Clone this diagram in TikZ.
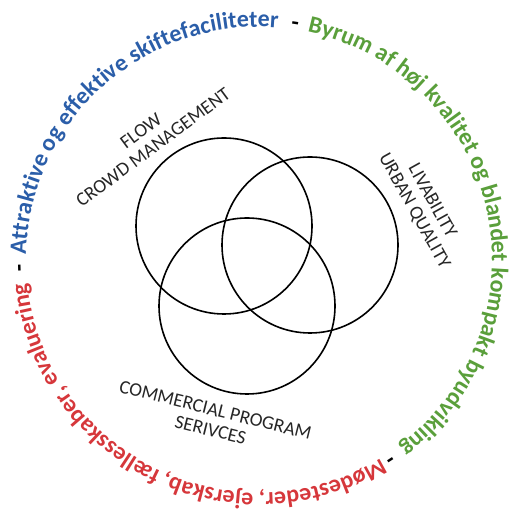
\documentclass[tikz,border=0pt]{standalone}
\usepackage{fontspec}
\setmainfont{Carlito}
\usetikzlibrary{decorations.text,calc}
\definecolor{tblue}{HTML}{2B5EA9}
\definecolor{tgreen}{HTML}{5A9F3B}
\definecolor{tred}{HTML}{D6373B}
\tikzset{
  venn/.style={draw=black, line width=1.6bp},
  lbl/.style={font=\fontsize{19.3}{20.5}\selectfont, align=center, text=black!85},
  dashmark/.style={font=\bfseries\fontsize{24}{28}\selectfont, inner sep=0pt},
}
\begin{document}
\begin{tikzpicture}[x=1bp,y=1bp]
\useasboundingbox (0,0) rectangle (517,512);
\coordinate (O) at (259,252);
% Venn circles
\node[venn, circle, minimum size=176bp, inner sep=0pt] (c1) at (224,286) {};
\node[venn, circle, minimum size=176bp, inner sep=0pt] (c2) at (310,267) {};
\node[venn, circle, minimum size=176bp, inner sep=0pt] (c3) at (247,206) {};
% labels
\node[lbl, rotate=36.6] (l1) at (147,373) {FLOW\\CROWD MANAGEMENT};
\node[lbl, rotate=-61] (l2) at (423,306) {LIVABILITY\\URBAN QUALITY};
\node[lbl, rotate=-14] (l3) at (213,92) {COMMERCIAL PROGRAM\\SERIVCES};
% outer text
\path[decorate, decoration={text along path, text align=center,
  text={|\bfseries\fontsize{24}{28}\selectfont\color{tblue}|Attraktive og effektive skiftefaciliteter}}]
  (O) ++(212:233) arc[start angle=212, end angle=52, radius=233];
\path[decorate, decoration={text along path, text align=center,
  text={|\bfseries\fontsize{24}{28}\selectfont\color{tgreen}|Byrum af høj kvalitet og blandet kompakt byudvikling}}]
  (O) ++(100.5:233) arc[start angle=100.5, end angle=-75.5, radius=233];
\path[decorate, decoration={text along path, text align=center,
  text={|\bfseries\fontsize{24}{28}\selectfont\color{tred}|Mødesteder, ejerskab, fællesskaber, evaluering}}]
  (O) ++(-36.4:233) arc[start angle=-36.4, end angle=-196.4, radius=233];
% dashes
\node[dashmark, rotate=-8.7] (d1) at ($(O)+(81.3:237)$) {-};
\node[dashmark, rotate=-146.8] (d2) at ($(O)+(-56.8:237)$) {-};
\node[dashmark, rotate=91.9] (d3) at ($(O)+(181.9:237)$) {-};
\end{tikzpicture}
\end{document}
